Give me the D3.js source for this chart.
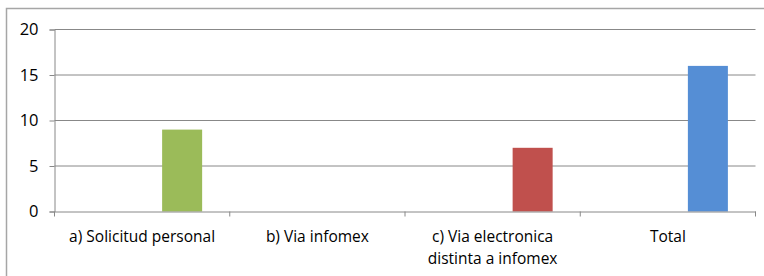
<!DOCTYPE html>
<html>
<head>
<meta charset="utf-8">
<script src="https://cdnjs.cloudflare.com/ajax/libs/d3/7.8.5/d3.min.js"></script>
<style>
  html, body { margin: 0; padding: 0; background: #fff; }
  svg { display: block; }
</style>
</head>
<body>
<div id="chart"></div>
<script>
var categories = [["a) Solicitud personal"], ["b) Via infomex"], ["c) Via electronica", "distinta a infomex"], ["Total"]];
var values = [9, null, 7, 16];
var barColors = ["#9BBB59", "#9BBB59", "#C0504D", "#558ED5"];
var yTicks = [0, 5, 10, 15, 20];

(function () {
    "use strict";

    var w = 764,
        h = 276,
        left = 54.5,
        right = 755.5,
        top = 29.5,
        bottom = 211.5;

    var svg = d3.select("#chart")
        .append("svg")
        .attr("width", w)
        .attr("height", h)
        .style("font-family", "'Open Sans', sans-serif");

    // outer frame (runs off the right and bottom edge)
    svg.append("rect")
        .attr("x", 6.5)
        .attr("y", 8.5)
        .attr("width", 800)
        .attr("height", 300)
        .attr("fill", "none")
        .attr("stroke", "#a6a6a6")
        .attr("stroke-width", 1.5);

    var keys = categories.map(function (d) { return d.join(" "); });

    var x = d3.scaleBand()
        .domain(keys)
        .range([left, right]);

    // three slots per category, bars sit in the last one
    var slot = d3.scaleBand()
        .domain([0, 1, 2])
        .range([0, x.bandwidth()])
        .paddingOuter(0.69);

    var y = d3.scaleLinear()
        .domain([0, 20])
        .range([bottom, top]);

    // gridlines
    svg.append("g")
        .selectAll("line")
        .data(yTicks.filter(function (d) { return d > 0; }))
        .enter()
        .append("line")
        .attr("x1", left)
        .attr("x2", right)
        .attr("y1", function (d) { return y(d); })
        .attr("y2", function (d) { return y(d); })
        .attr("stroke", "#888")
        .attr("stroke-width", 1);

    // bars
    svg.append("g")
        .selectAll("rect")
        .data(values.map(function (v, i) { return { k: keys[i], v: v, c: barColors[i] }; })
            .filter(function (d) { return d.v != null; }))
        .enter()
        .append("rect")
        .attr("x", function (d) { return x(d.k) + slot(2); })
        .attr("y", function (d) { return y(d.v); })
        .attr("width", slot.bandwidth())
        .attr("height", function (d) { return y(0) - y(d.v); })
        .attr("fill", function (d) { return d.c; });

    // y axis
    var yAxis = svg.append("g")
        .attr("transform", "translate(" + left + ",0)")
        .call(d3.axisLeft(y).tickValues(yTicks).tickSize(5).tickPadding(11));
    yAxis.select(".domain").attr("stroke", "#888");
    yAxis.selectAll(".tick line").attr("stroke", "#888");
    yAxis.selectAll("text")
        .attr("font-size", 16.5)
        .attr("font-family", "'Open Sans', sans-serif")
        .attr("fill", "#000");

    // x axis
    var xAxis = svg.append("g")
        .attr("transform", "translate(0," + bottom + ")")
        .call(d3.axisBottom(x).tickSize(0).tickFormat(""));
    xAxis.select(".domain").attr("stroke", "#888");
    xAxis.selectAll(".tick").remove();

    var edges = keys.map(function (k) { return x(k); }).concat([right]);
    xAxis.selectAll(".edge")
        .data(edges)
        .enter()
        .append("line")
        .attr("class", "edge")
        .attr("x1", function (d) { return d; })
        .attr("x2", function (d) { return d; })
        .attr("y1", 0)
        .attr("y2", 5)
        .attr("stroke", "#888");

    // category labels
    var labels = svg.append("g")
        .selectAll("text")
        .data(categories)
        .enter()
        .append("text")
        .attr("text-anchor", "middle")
        .attr("font-size", 15.5)
        .attr("fill", "#000")
        .attr("x", function (d, i) { return x(keys[i]) + x.bandwidth() / 2; })
        .attr("y", 241.5);

    labels.selectAll("tspan")
        .data(function (d) { return d; })
        .enter()
        .append("tspan")
        .attr("x", function () { return d3.select(this.parentNode).attr("x"); })
        .attr("dy", function (d, i) { return i === 0 ? 0 : 22; })
        .text(function (d) { return d; });
})();
</script>
</body>
</html>
